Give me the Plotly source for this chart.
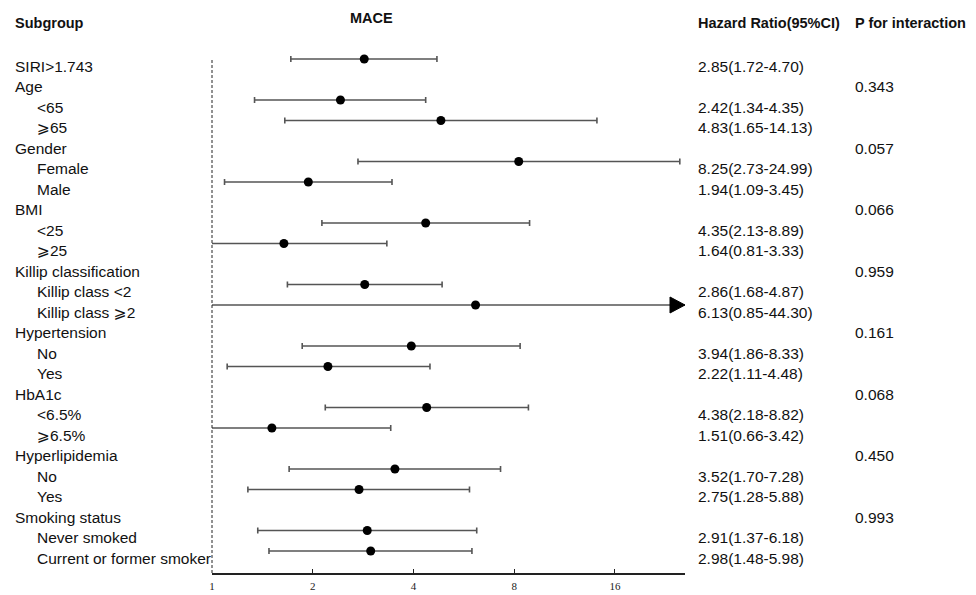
import math
import plotly.graph_objects as go

# ---------------- data ----------------
labels = ["SIRI>1.743", "Age", "<65", "⩾65", "Gender", "Female", "Male",
          "BMI", "<25", "⩾25", "Killip classification", "Killip class <2",
          "Killip class ⩾2", "Hypertension", "No", "Yes", "HbA1c", "<6.5%",
          "⩾6.5%", "Hyperlipidemia", "No", "Yes", "Smoking status",
          "Never smoked", "Current or former smoker"]
indent = [0, 0, 1, 1, 0, 1, 1, 0, 1, 1, 0, 1, 1, 0, 1, 1, 0, 1, 1, 0, 1, 1, 0, 1, 1]
hr = [2.85, None, 2.42, 4.83, None, 8.25, 1.94, None, 4.35, 1.64, None, 2.86,
      6.13, None, 3.94, 2.22, None, 4.38, 1.51, None, 3.52, 2.75, None, 2.91, 2.98]
lo = [1.72, None, 1.34, 1.65, None, 2.73, 1.09, None, 2.13, 0.81, None, 1.68,
      0.85, None, 1.86, 1.11, None, 2.18, 0.66, None, 1.70, 1.28, None, 1.37, 1.48]
hi = [4.70, None, 4.35, 14.13, None, 24.99, 3.45, None, 8.89, 3.33, None, 4.87,
      44.30, None, 8.33, 4.48, None, 8.82, 3.42, None, 7.28, 5.88, None, 6.18, 5.98]
p_int = [None, "0.343", None, None, "0.057", None, None, "0.066", None, None,
         "0.959", None, None, "0.161", None, None, "0.068", None, None, "0.450",
         None, None, "0.993", None, None]
tick_vals = [1, 2, 4, 8, 16]
tick_text = ["1", "2", "4", "8", "16"]
x_max = 25.9
title = "MACE"

# ---------------- layout helpers ----------------
W, H = 976, 595
L_PX, R_PX = 212, 685
T_PX, B_PX = 40, 573
ROW0, ROWH = 59, 20.5


def px_x(p):
    return (p - L_PX) / (R_PX - L_PX)


def px_y(p):
    return (B_PX - p) / (B_PX - T_PX)


FONT = "Arial, Liberation Sans, DejaVu Sans, sans-serif"
TXT = 15.5
TSHIFT = -7

rows = list(range(len(labels)))
idx = [i for i in rows if hr[i] is not None]

fig = go.Figure()
fig.add_trace(go.Scatter(
    x=[hr[i] for i in idx],
    y=idx,
    mode="markers",
    marker=dict(color="black", size=9),
    error_x=dict(type="data", symmetric=False,
                 array=[hi[i] - hr[i] for i in idx],
                 arrayminus=[hr[i] - lo[i] for i in idx],
                 color="#555555", thickness=1.6, width=3),
    showlegend=False, hoverinfo="skip",
))

annotations = []
for i in rows:
    annotations.append(dict(
        x=px_x(35 if indent[i] else 13), xref="paper", y=i, yref="y",
        text=labels[i], showarrow=False, xanchor="left", yanchor="middle",
        yshift=TSHIFT, font=dict(family=FONT, size=TXT, color="#111")))
    if hr[i] is not None:
        annotations.append(dict(
            x=px_x(696), xref="paper", y=i, yref="y",
            text=f"{hr[i]:.2f}({lo[i]:.2f}-{hi[i]:.2f})", showarrow=False,
            xanchor="left", yanchor="middle", yshift=TSHIFT,
            font=dict(family=FONT, size=TXT, color="#111")))
    if p_int[i] is not None:
        annotations.append(dict(
            x=px_x(853), xref="paper", y=i, yref="y", text=p_int[i],
            showarrow=False, xanchor="left", yanchor="middle", yshift=TSHIFT,
            font=dict(family=FONT, size=TXT, color="#111")))

for txt, xp in [("<b>Subgroup</b>", 13),
                ("<b>Hazard Ratio(95%CI)</b>", 696),
                ("<b>P for interaction</b>", 853)]:
    annotations.append(dict(x=px_x(xp), xref="paper", y=px_y(23), yref="paper",
                            text=txt, showarrow=False, xanchor="left",
                            yanchor="middle",
                            font=dict(family=FONT, size=14.5, color="#111")))
annotations.append(dict(x=px_x(371), xref="paper", y=px_y(18), yref="paper",
                        text=f"<b>{title}</b>", showarrow=False, xanchor="center",
                        yanchor="middle",
                        font=dict(family=FONT, size=14.5, color="#111")))

shapes = [dict(type="line", xref="x domain", x0=0, x1=0, yref="paper",
               y0=0, y1=px_y(58),
               line=dict(color="#222", width=1, dash="3px,2px"))]
# arrows for CIs running beyond the axis
for i in idx:
    if hi[i] > x_max:
        shapes.append(dict(type="path", xref="paper", xsizemode="pixel",
                           xanchor=1, yref="y", ysizemode="pixel", yanchor=i,
                           path="M-15,-8 L0,0 L-15,8 Z",
                           fillcolor="black", line=dict(color="black", width=1)))

fig.update_layout(
    width=W, height=H,
    margin=dict(l=L_PX, r=W - R_PX, t=T_PX, b=H - B_PX, pad=0, autoexpand=False),
    paper_bgcolor="white", plot_bgcolor="white",
    annotations=annotations, shapes=shapes,
    xaxis=dict(type="log", range=[0, math.log10(x_max)], automargin=False,
               tickvals=tick_vals, ticktext=tick_text,
               ticks="inside", ticklen=4, tickcolor="#222", tickwidth=1,
               ticklabelstandoff=2,
               showline=True, linecolor="#222", linewidth=1.5,
               showgrid=False, zeroline=False,
               tickfont=dict(family="Liberation Serif, Times New Roman, serif",
                             size=11, color="#222")),
    yaxis=dict(range=[(B_PX - ROW0) / ROWH, (T_PX - ROW0) / ROWH],
               automargin=False,
               visible=False, showgrid=False, zeroline=False),
)

fig.write_html("out.html", config={"displayModeBar": False},
               post_script="document.body.style.margin='0';"
                           "document.body.style.overflow='hidden';")
